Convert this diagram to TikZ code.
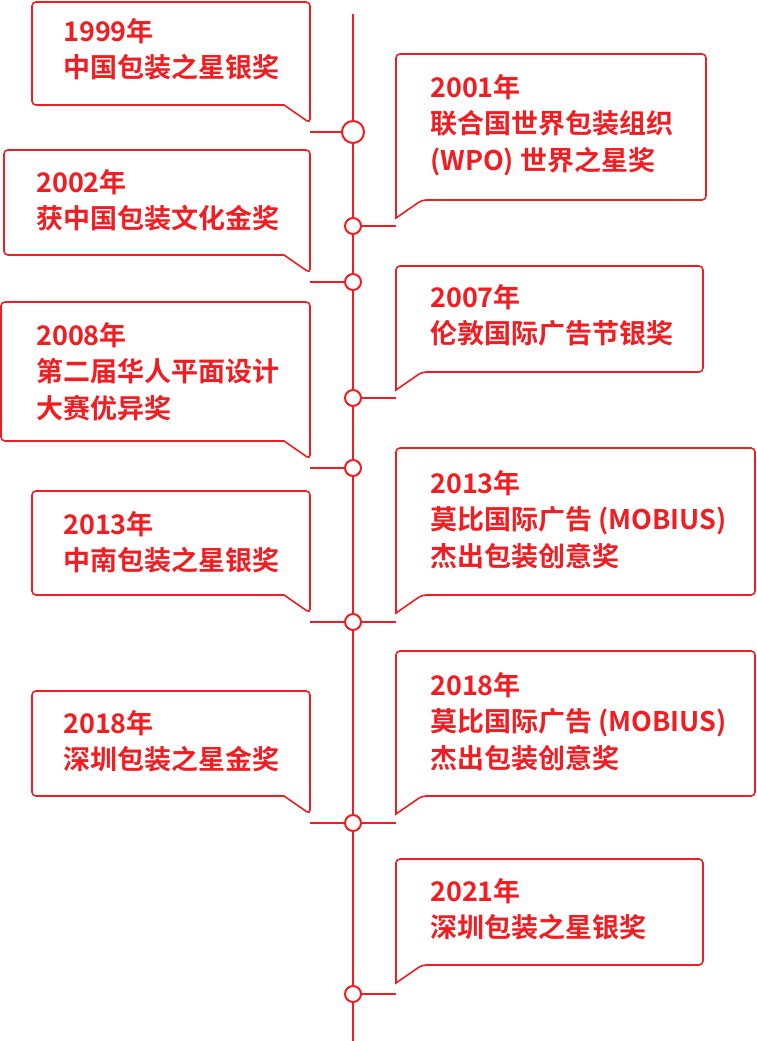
\documentclass[tikz,border=0pt]{standalone}
\usepackage{fontspec}
\setmainfont{Noto Sans CJK SC}[BoldFont={* Bold}]
\definecolor{awardred}{HTML}{F01E23}
\tikzset{
  box/.style={draw=awardred, line width=1.6, rounded corners=4},
  award/.style={anchor=north west, inner sep=0, align=left, text=awardred,
    font=\bfseries\fontsize{27}{36.5}\selectfont},
  dot/.style={circle, draw=awardred, fill=white, line width=2, inner sep=0, minimum size=#1},
  link/.style={draw=awardred, line width=1.6}
}
% left box: x1 x2 top bottom
\newcommand{\leftbox}[4]{\draw[box] (#1,#3) -- (#2,#3) -- (#2,#4+18) [sharp corners] -- (#2-26,#4) [rounded corners=4] -- (#1,#4) -- cycle;}
\newcommand{\rightbox}[4]{\draw[box] (#1,#4+18) -- (#1,#3) -- (#2,#3) -- (#2,#4) -- (#1+26,#4) [sharp corners] -- cycle;}
\begin{document}
\begin{tikzpicture}[x=1pt, y=-1pt]
    \useasboundingbox (0,0) rectangle (756,1041);
    \draw[link] (353,14) -- (353,1041);

    % left
    \leftbox{32}{310}{2}{105}
    \node[award] (t1999) at (63,18) {1999年\\中国包装之星银奖};
    \leftbox{4}{310}{150}{255}
    \node[award] (t2002) at (36,169) {2002年\\获中国包装文化金奖};
    \leftbox{1}{310}{302}{441}
    \node[award] (t2008) at (36,322) {2008年\\第二届华人平面设计\\大赛优异奖};
    \leftbox{32}{310}{491}{595}
    \node[award] (t2013a) at (63,511) {2013年\\中南包装之星银奖};
    \leftbox{32}{310}{691}{796}
    \node[award] (t2018a) at (63,710) {2018年\\深圳包装之星金奖};

    % right
    \rightbox{396}{706}{54}{200}
    \node[award] (t2001) at (430,74) {2001年\\联合国世界包装组织\\(WPO) 世界之星奖};
    \rightbox{396}{703}{266}{372}
    \node[award] (t2007) at (430,284) {2007年\\伦敦国际广告节银奖};
    \rightbox{396}{755}{448}{595}
    \node[award] (t2013b) at (430,470) {2013年\\莫比国际广告 (MOBIUS)\\杰出包装创意奖};
    \rightbox{396}{755}{651}{796}
    \node[award] (t2018b) at (430,672) {2018年\\莫比国际广告 (MOBIUS)\\杰出包装创意奖};
    \rightbox{396}{703}{859}{965}
    \node[award] (t2021) at (430,878) {2021年\\深圳包装之星银奖};

    % dots
    \node[dot=22] (d1) at (353,132) {};
    \foreach \n/\y in {2/226, 3/282, 4/398, 5/468, 6/622, 7/823, 8/994}
      \node[dot=16] (d\n) at (353,\y) {};

    \foreach \n/\y in {1/132, 3/282, 5/468, 6/622, 7/823} {
      \coordinate (l\n) at (310,\y);
      \draw[link] (l\n) -- (d\n);
    }
    \foreach \n/\y in {2/226, 4/398, 6/622, 7/823, 8/994} {
      \coordinate (r\n) at (396,\y);
      \draw[link] (d\n) -- (r\n);
    }
\end{tikzpicture}
\end{document}
